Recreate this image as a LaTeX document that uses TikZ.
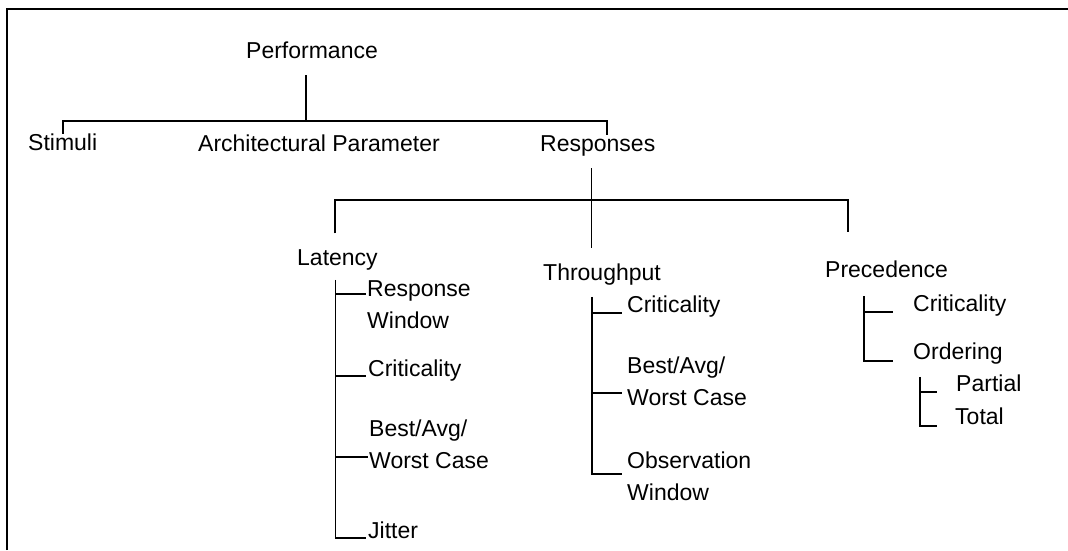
\documentclass[tikz,border=0pt]{standalone}
\usepackage{fontspec}
\setmainfont{Liberation Sans}
\begin{document}
\begin{tikzpicture}[x=1pt,y=-1pt,
  lbl/.style={inner sep=0pt, font=\fontsize{23}{32}\selectfont, anchor=base west},
  lbltwo/.style={lbl, anchor=north west, align=left},
  edge/.style={line width=1.7pt}]
\useasboundingbox (0,0) rectangle (1068,550);
% frame
\draw[line width=1.8pt] (7,550) -- (7,9) -- (1068,9);
% labels
\node[lbl] (perf) at (246,58) {Performance};
\node[lbl] (stim) at (28,150.5) {Stimuli};
\node[lbl] (arch) at (198,151) {Architectural Parameter};
\node[lbl] (resp) at (540,151.5) {Responses};
\node[lbl] (lat) at (297,265) {Latency};
\node[lbl] (thr) at (543,280) {Throughput};
\node[lbl] (prec) at (825,277) {Precedence};
% latency children
\node[lbltwo] (lrw) at (367,280) {Response\\Window};
\node[lbl] (lcr) at (368,376) {Criticality};
\node[lbltwo] (lbw) at (369,420) {Best/Avg/\\Worst Case};
\node[lbl] (ljt) at (368,538) {Jitter};
% throughput children
\node[lbl] (tcr) at (627,312.7) {Criticality};
\node[lbltwo] (tbw) at (627,357) {Best/Avg/\\Worst Case};
\node[lbltwo] (tow) at (627,452) {Observation\\Window};
% precedence children
\node[lbl] (pcr) at (913,311.7) {Criticality};
\node[lbl] (por) at (913,359.3) {Ordering};
\node[lbl] (ppa) at (956,391.7) {Partial};
\node[lbl] (pto) at (955,424) {Total};
% coordinates
\coordinate (pb) at (306,120.7);
\coordinate (bl) at (63,120.7);
\coordinate (br) at (606.7,120.7);
\coordinate (cl) at (335,200);
\coordinate (cr) at (848,200);
\coordinate (rv) at (591.5,200);
\coordinate (lx) at (335.5,300);
\coordinate (tx) at (591.7,300);
\coordinate (px) at (864,300);
\coordinate (ox) at (920,400);
% top level
\draw[edge, shorten <=17pt] (perf.south -| pb) -- (pb);
\draw[edge] (stim.north -| bl) |- (br) -- (resp.north -| br);
% responses level
\draw[edge, shorten <=11.7pt, shorten >=15pt] (resp.south -| rv) -- (thr.north -| rv);
\draw[edge, shorten <=15.5pt, shorten >=28.5pt] (lat.north -| cl) |- (cr) -- (prec.north -| cr);
% latency
\coordinate (lrwb) at ([xshift=-1pt,yshift=-14pt]lrw.north west);
\coordinate (lbwb) at ([xshift=-1pt,yshift=-36.7pt]lbw.north west);
\draw[edge, shorten <=10pt] (lat.south -| lx) |- ([xshift=-2pt]ljt.base west);
\draw[edge] (lx |- lrwb) -- (lrwb);
\draw[edge] (lx |- lcr.base) -- ([xshift=-2pt]lcr.base west);
\draw[edge] (lx |- lbwb) -- (lbwb);
% throughput
\coordinate (tob) at ([xshift=-5pt,yshift=-22pt]tow.north west);
\coordinate (tbwb) at ([xshift=-5pt,yshift=-35.7pt]tbw.north west);
\draw[edge, shorten <=12pt] (thr.south -| tx) |- (tob);
\draw[edge] (tx |- tcr.base) -- ([xshift=-5pt]tcr.base west);
\draw[edge] (tx |- tbwb) -- (tbwb);
% precedence
\coordinate (pxo) at ([xshift=-19.7pt,yshift=-1.4pt]por.base west);
\draw[edge, shorten <=19pt] (prec.south -| px) |- (pxo);
\draw[edge] (px |- pcr.base) -- ([xshift=-19.7pt]pcr.base west);
% ordering
\coordinate (oto) at ([xshift=-18.3pt,yshift=-2pt]pto.base west);
\draw[edge, shorten <=12.7pt] (por.south -| ox) |- (oto);
\draw[edge] (ox |- ppa.base) -- ([xshift=-19.3pt]ppa.base west);
\end{tikzpicture}
\end{document}
